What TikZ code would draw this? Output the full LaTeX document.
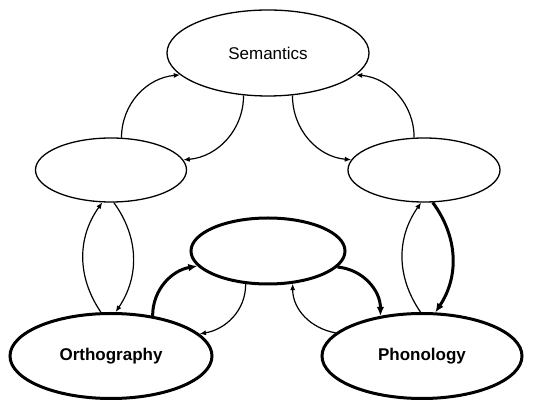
\documentclass[tikz,border=0pt]{standalone}
\usepackage{fontspec}
\setmainfont{Liberation Sans}
\usetikzlibrary{shapes.geometric,arrows.meta}

\begin{document}
\begin{tikzpicture}[
  x=0.5pt, y=0.5pt,
  layer/.style={
    draw, ellipse, line width=0.65pt,
    inner sep=0pt,
    font=\fontsize{8.5}{10}\selectfont
  },
  mainlayer/.style={layer, line width=1.5pt, font=\fontsize{8.5}{10}\selectfont\bfseries},
  link/.style={line width=0.6pt, -{Latex[length=3.2pt,width=2.6pt]}},
  strong/.style={line width=1.5pt, -{Latex[length=4.5pt,width=3.8pt]}}
]
\useasboundingbox (0,0) rectangle (552,-400);

% --- layers ---
\node[layer, minimum width=101pt, minimum height=43pt] (sem) at (268,-53) {Semantics};
\node[layer, minimum width=75.5pt, minimum height=32pt] (hidl) at (111,-170) {};
\node[layer, minimum width=76pt, minimum height=32pt] (hidr) at (424,-170) {};
\node[mainlayer, minimum width=77pt, minimum height=33pt] (hidm) at (268,-251) {};
\node[mainlayer, minimum width=101pt, minimum height=42.5pt] (orth) at (111,-356) {Orthography};
\node[mainlayer, minimum width=100pt, minimum height=42.5pt] (phon) at (422,-356) {Phonology};

% --- to and from semantics ---
\draw[link] (hidl.72) to[out=90, in=185] (sem.194);
\draw[link] (sem.240) to[out=-90, in=5] (hidl.8);
\draw[link] (sem.300) to[out=-90, in=175] (hidr.172);
\draw[link] (hidr.107) to[out=90, in=-5] (sem.346);

% --- side pathways ---
\draw[link] (orth.103) to[bend left=35] (hidl.255);
\draw[link] (hidl.275) to[bend left=35] (orth.84);
\draw[link] (phon.92) to[bend left=35] (hidr.265);
\draw[strong] (hidr.285) to[bend left=35] (phon.73);

% --- middle pathway ---
\draw[strong] (orth.44) to[out=90, in=190] (hidm.192);
\draw[link] (hidm.236) to[out=-90, in=10] (orth.14);
\draw[link] (phon.165) to[out=170, in=-90] (hidm.307);
\draw[strong] (hidm.347) to[out=-5, in=90] (phon.136);

\end{tikzpicture}
\end{document}
